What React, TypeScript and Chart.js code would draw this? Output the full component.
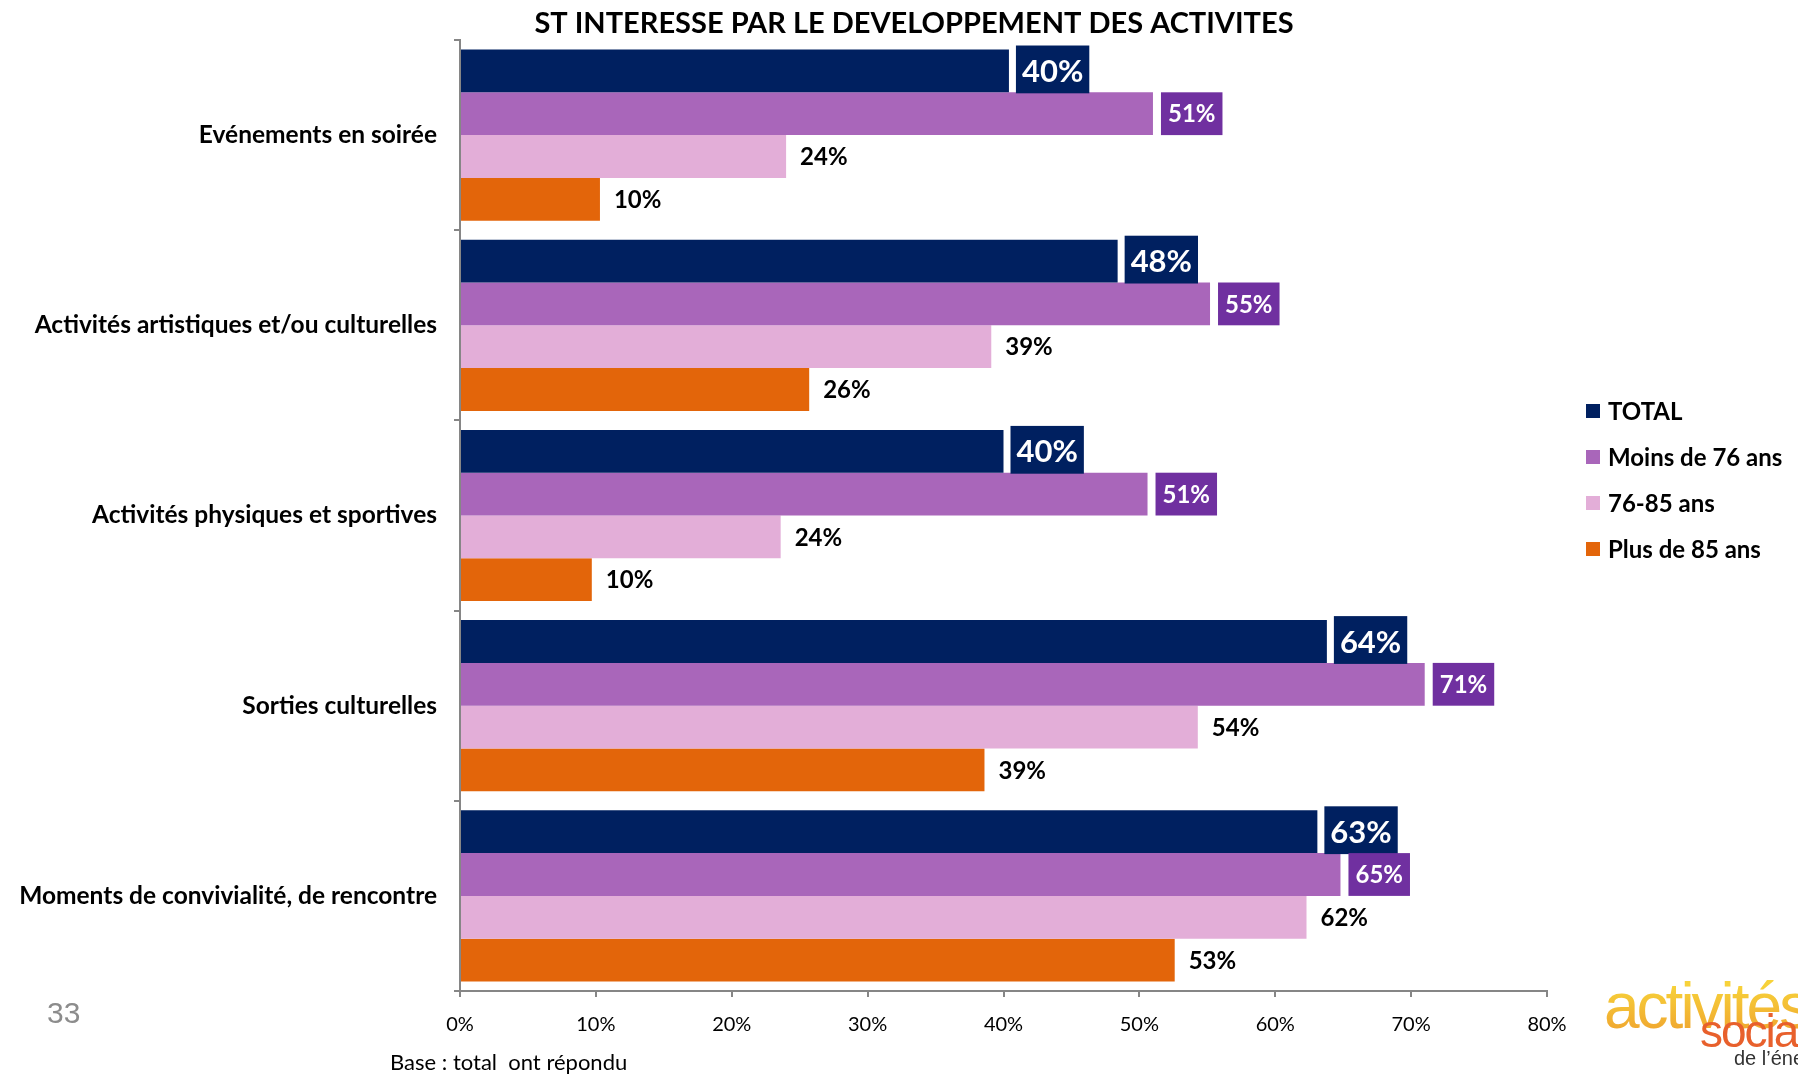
import React, { useEffect, useRef } from "react";
import { Chart, registerables } from "chart.js";

Chart.register(...registerables);

const W = 1798;
const H = 1076;

const chartTitle = "ST INTERESSE PAR LE DEVELOPPEMENT DES ACTIVITES";
const categories = [
  "Evénements en soirée",
  "Activités artistiques et/ou culturelles",
  "Activités physiques et sportives",
  "Sorties culturelles",
  "Moments de convivialité, de rencontre",
];
const seriesNames = ["TOTAL", "Moins de 76 ans", "76-85 ans", "Plus de 85 ans"];
const totalValues = [40.4, 48.4, 40.0, 63.8, 63.1];
const moins76Values = [51.0, 55.2, 50.6, 71.0, 64.8];
const age7685Values = [24.0, 39.1, 23.6, 54.3, 62.3];
const plus85Values = [10.3, 25.7, 9.7, 38.6, 52.6];
const xTickValues = [0, 10, 20, 30, 40, 50, 60, 70, 80];
const seriesColors = ["#002060", "#A966BA", "#E3AED8", "#E3650A"];
const baseNote = "Base : total  ont répondu";
const pageNumber = "33";

const FONT = "Lato, 'Open Sans', sans-serif";

const labelPlugin = {
  id: "barLabels",
  afterDatasetsDraw(chart: any) {
    const ctx = chart.ctx;
    ctx.save();
    chart.data.datasets.forEach((ds: any, di: number) => {
      const meta = chart.getDatasetMeta(di);
      meta.data.forEach((bar: any, i: number) => {
        const v = ds.data[i] as number;
        const txt = Math.round(v) + "%";
        const p = bar.getProps(["x", "y", "height"], true);
        const top = p.y - p.height / 2;
        const bottom = p.y + p.height / 2;
        if (di === 0) {
          ctx.font = `bold 31px ${FONT}`;
          const tw = ctx.measureText(txt).width;
          const bx = p.x + 7;
          ctx.fillStyle = "#002060";
          ctx.fillRect(bx, top - 4, tw + 12, bottom - top + 5);
          ctx.fillStyle = "#ffffff";
          ctx.textAlign = "left";
          ctx.textBaseline = "middle";
          ctx.fillText(txt, bx + 6, p.y + 1);
        } else if (di === 1) {
          ctx.font = `bold 24px ${FONT}`;
          const tw = ctx.measureText(txt).width;
          const bx = p.x + 8;
          ctx.fillStyle = "#7030A0";
          ctx.fillRect(bx, top, tw + 14, bottom - top);
          ctx.fillStyle = "#ffffff";
          ctx.textAlign = "left";
          ctx.textBaseline = "middle";
          ctx.fillText(txt, bx + 7, p.y + 1);
        } else {
          ctx.font = `bold 24px ${FONT}`;
          ctx.fillStyle = "#000000";
          ctx.textAlign = "left";
          ctx.textBaseline = "middle";
          ctx.fillText(txt, p.x + 14, p.y + 1);
        }
      });
    });
    ctx.restore();
  },
};

const decorPlugin = {
  id: "decor",
  afterDraw(chart: any) {
    const ctx = chart.ctx;
    ctx.save();
    // title
    ctx.font = `bold 29px ${FONT}`;
    ctx.fillStyle = "#000000";
    ctx.textAlign = "center";
    ctx.textBaseline = "middle";
    ctx.fillText(chartTitle, 914, 24);
    // legend
    const legendY = [411, 457, 503, 549];
    ctx.font = `bold 24px ${FONT}`;
    ctx.textAlign = "left";
    seriesNames.forEach((name, k) => {
      ctx.fillStyle = seriesColors[k];
      ctx.fillRect(1586, legendY[k] - 7, 14, 14);
      ctx.fillStyle = "#000000";
      ctx.fillText(name, 1608, legendY[k] + 1);
    });
    // base note
    ctx.font = `22px ${FONT}`;
    ctx.fillStyle = "#000000";
    ctx.textBaseline = "alphabetic";
    ctx.fillText(baseNote, 390, 1070);
    // page number
    ctx.font = `30px 'Liberation Sans', Arial, sans-serif`;
    ctx.fillStyle = "#8C8C8C";
    ctx.fillText(pageNumber, 47, 1023);
    // logo
    ctx.font = `64px 'Liberation Sans', Arial, sans-serif`;
    const g = ctx.createLinearGradient(0, 985, 0, 1030);
    g.addColorStop(0, "#F7D23A");
    g.addColorStop(1, "#F0A830");
    ctx.fillStyle = g;
    (ctx as any).letterSpacing = "-3px";
    ctx.fillText("activités", 1604, 1028);
    ctx.font = `46px 'Liberation Sans', Arial, sans-serif`;
    ctx.fillStyle = "#E8602C";
    (ctx as any).letterSpacing = "-2px";
    ctx.fillText("sociales", 1700, 1047);
    (ctx as any).letterSpacing = "0px";
    ctx.font = `20px 'Liberation Sans', Arial, sans-serif`;
    ctx.fillStyle = "#333333";
    ctx.fillText("de l’énergie", 1734, 1065);
    ctx.restore();
  },
};

export default function App() {
  const ref = useRef<HTMLCanvasElement | null>(null);

  useEffect(() => {
    if (!ref.current) return;
    const chart = new Chart(ref.current, {
      type: "bar",
      data: {
        labels: categories,
        datasets: [
          { label: seriesNames[0], data: totalValues, backgroundColor: seriesColors[0] },
          { label: seriesNames[1], data: moins76Values, backgroundColor: seriesColors[1] },
          { label: seriesNames[2], data: age7685Values, backgroundColor: seriesColors[2] },
          { label: seriesNames[3], data: plus85Values, backgroundColor: seriesColors[3] },
        ],
      },
      options: {
        indexAxis: "y",
        animation: false,
        responsive: false,
        maintainAspectRatio: false,
        datasets: { bar: { categoryPercentage: 0.9, barPercentage: 1.0, borderWidth: 0 } },
        layout: { padding: { top: 40, right: 251, left: 0, bottom: 0 } },
        plugins: {
          legend: { display: false },
          title: { display: false },
          tooltip: { enabled: false },
        },
        scales: {
          x: {
            min: 0,
            max: 80,
            afterBuildTicks: (s: any) => {
              s.ticks = xTickValues.map((v) => ({ value: v }));
            },
            ticks: {
              callback: (v: any) => v + "%",
              font: { family: FONT, size: 20 },
              color: "#000000",
              padding: 16,
              maxRotation: 0,
            },
            grid: { drawOnChartArea: false, drawTicks: true, tickLength: 6, color: "#868686", lineWidth: 2 },
            border: { color: "#868686", width: 2 },
            afterFit: (s: any) => {
              s.height = 85;
            },
          },
          y: {
            ticks: {
              font: { family: FONT, size: 24.5, weight: "bold" },
              color: "#000000",
              padding: 17,
            },
            grid: { drawOnChartArea: false, drawTicks: true, tickLength: 6, offset: true, color: "#868686", lineWidth: 2 },
            border: { color: "#868686", width: 2 },
            afterFit: (s: any) => {
              s.width = 460;
            },
          },
        },
      } as any,
      plugins: [labelPlugin, decorPlugin],
    });
    return () => chart.destroy();
  }, []);

  return (
    <div style={{ position: "absolute", left: 0, top: 0, width: W, height: H, overflow: "hidden", background: "#ffffff" }}>
      <canvas ref={ref} width={W} height={H} style={{ display: "block", width: W, height: H }} />
    </div>
  );
}
